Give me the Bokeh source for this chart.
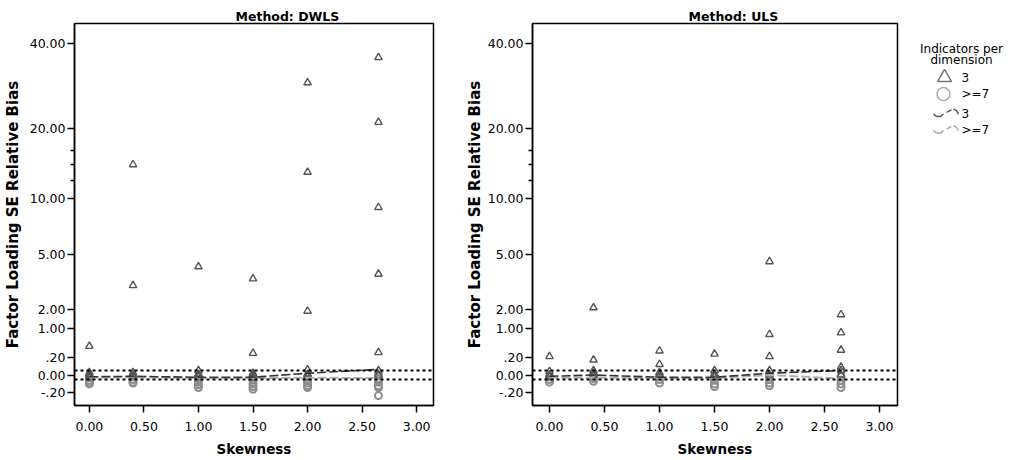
import numpy as np
from bokeh.plotting import figure
from bokeh.models import Range1d, FixedTicker, Span, PrintfTickFormatter
from bokeh.layouts import row
from bokeh.embed import file_html
from bokeh.resources import INLINE
from bokeh.core.properties import value

FONT = "DejaVu Sans"

# ---------------- data ----------------
SKEW = [0.0, 0.40, 1.00, 1.50, 2.00, 2.65]

# DWLS, 3 indicators per dimension (triangles), one list per skewness level
DWLS_TRI = [
    [0.48, 0.03, 0.0, -0.02, 0.01],
    [14.0, 3.0, 0.03, 0.0, -0.01],
    [4.1, 0.05, 0.01, -0.02, 0.0],
    [3.36, 0.30, 0.02, 0.0, -0.03],
    [29.0, 13.0, 1.87, 0.06, 0.01, -0.02],
    [35.6, 21.0, 9.0, 3.63, 0.32, 0.05, 0.0],
]
# DWLS, >=7 indicators per dimension (circles)
DWLS_CIR = [
    [-0.03, -0.06, -0.08, -0.10],
    [-0.02, -0.05, -0.08, -0.09],
    [-0.02, -0.05, -0.08, -0.11, -0.14],
    [-0.02, -0.06, -0.10, -0.13, -0.16],
    [-0.02, -0.05, -0.09, -0.12, -0.14],
    [0.0, -0.04, -0.08, -0.12, -0.14, -0.27],
]
DWLS_LINE3 = [-0.02, -0.015, -0.025, -0.025, 0.02, 0.063]
DWLS_LINE7 = [-0.03, -0.025, -0.035, -0.035, -0.03, -0.035]

# ULS
ULS_TRI = [
    [0.22, 0.04, 0.0, -0.02],
    [2.05, 0.17, 0.05, 0.02, 0.0],
    [0.36, 0.12, 0.03, 0.0],
    [0.28, 0.05, 0.01, -0.02],
    [4.46, 0.82, 0.22, 0.05, 0.0],
    [1.67, 0.87, 0.38, 0.09, 0.05, 0.0],
]
ULS_CIR = [
    [-0.02, -0.05, -0.08],
    [-0.01, -0.04, -0.07],
    [-0.02, -0.05, -0.09],
    [-0.02, -0.06, -0.10, -0.13],
    [-0.01, -0.05, -0.09, -0.12],
    [-0.02, -0.06, -0.10, -0.14],
]
ULS_LINE3 = [-0.015, 0.0, -0.025, -0.025, 0.02, 0.05]
ULS_LINE7 = [-0.03, -0.03, -0.035, -0.035, 0.0, -0.04]

REF_LINES = [-0.05, 0.05]

X_TICKS = [0.0, 0.5, 1.0, 1.5, 2.0, 2.5, 3.0]
Y_TICKS = [-0.2, 0.0, 0.2, 1.0, 2.0, 5.0, 10.0, 20.0, 40.0]
Y_LABELS = ["-.20", "0.00", ".20", "1.00", "2.00", "5.00", "10.00", "20.00", "40.00"]
Y_MINOR = [12.0, 14.0, 16.0]

# non-linear (compressed) y scale calibration of the original axis
SCALE_VALUES = [0.0, 0.2, 1.0, 2.0, 5.0, 10.0, 20.0, 40.0]
SCALE_POS = [0.0, 17.75, 46.2, 66.0, 120.5, 176.2, 246.8, 331.8]


def tf(v):
    v = np.asarray(v, dtype=float)
    a = np.interp(np.arcsinh(np.abs(v)), np.arcsinh(SCALE_VALUES), SCALE_POS)
    return np.sign(v) * a


def flat(groups):
    xs, ys = [], []
    for s, vals in zip(SKEW, groups):
        for v in vals:
            xs.append(s)
            ys.append(v)
    return xs, [float(t) for t in tf(ys)]


def make_panel(title, tri, cir, l3, l7, width, mbl, mbr, xr, title_off, ylab_standoff):
    p = figure(width=width, height=460, x_range=Range1d(*xr),
               y_range=Range1d(-30.5, 351.5), toolbar_location=None,
               output_backend="svg", min_border_left=mbl, min_border_right=mbr,
               min_border_top=23, min_border_bottom=55, title=title)
    p.title.align = "left"
    p.title.offset = title_off
    p.title.standoff = 0
    p.title.text_font = FONT
    p.title.text_font_style = "bold"
    p.title.text_font_size = "12.5px"
    p.title.text_color = "black"

    p.xgrid.visible = False
    p.ygrid.visible = False
    p.outline_line_color = "black"
    p.outline_line_width = 1.5
    p.outline_line_alpha = 1.0
    p.background_fill_color = "white"
    p.border_fill_color = "white"

    for v in REF_LINES:
        p.add_layout(Span(location=float(tf(v)), dimension="width",
                          line_color="black", line_width=2, line_dash="3 3"))

    cx, cy = flat(cir)
    p.scatter(cx, cy, marker="circle", size=7, fill_color=None,
              line_color="#8c8c8c", line_width=2)
    tx, ty = flat(tri)
    p.scatter(tx, ty, marker="triangle", size=7.5, fill_color=None,
              line_color="#555555", line_width=1.4)

    p.line(SKEW, [float(t) for t in tf(l7)], line_color="#b0b0b0",
           line_width=2, line_dash="9 3")
    p.line(SKEW, [float(t) for t in tf(l3)], line_color="#333333",
           line_width=1.6, line_dash="9 3")

    xa = p.xaxis[0]
    xa.ticker = FixedTicker(ticks=X_TICKS, minor_ticks=[])
    xa.formatter = PrintfTickFormatter(format="%.2f")
    xa.axis_label = "Skewness"

    ya = p.yaxis[0]
    ypos = [float(t) for t in tf(Y_TICKS)]
    ya.ticker = FixedTicker(ticks=ypos, minor_ticks=[float(t) for t in tf(Y_MINOR)])
    ya.major_label_overrides = {k: lab for k, lab in zip(ypos, Y_LABELS)}
    ya.axis_label = "Factor Loading SE Relative Bias"

    for ax in (xa, ya):
        ax.major_tick_out = 7
        ax.major_tick_in = 0
        ax.minor_tick_out = 4
        ax.minor_tick_in = 0
        ax.axis_line_width = 1.5
        ax.major_tick_line_width = 1.5
        ax.minor_tick_line_width = 1.5
        ax.major_label_text_font = FONT
        ax.major_label_text_color = "black"
        ax.major_label_text_font_size = "12.5px"
        ax.axis_label_text_font = FONT
        ax.axis_label_text_font_style = "bold"
        ax.axis_label_text_color = "black"
    xa.axis_label_text_font_size = "13.5px"
    ya.axis_label_text_font_size = "15px"
    xa.major_label_standoff = 9
    xa.axis_label_standoff = 7
    ya.major_label_standoff = 2
    ya.axis_label_standoff = ylab_standoff
    return p


p1 = make_panel("Method: DWLS", DWLS_TRI, DWLS_CIR, DWLS_LINE3, DWLS_LINE7,
                450, 71, 17, (-0.1364, 3.1545), 161, 5)
p2 = make_panel("Method: ULS", ULS_TRI, ULS_CIR, ULS_LINE3, ULS_LINE7,
                455, 82, 8, (-0.1545, 3.1636), 156, 1)

# ---------------- legend ----------------
lg = figure(width=108, height=460, x_range=Range1d(0, 108), y_range=Range1d(460, 0),
            toolbar_location=None, output_backend="svg", min_border=0)
lg.axis.visible = False
lg.xgrid.visible = False
lg.ygrid.visible = False
lg.outline_line_color = None
lg.text(x=[56, 56], y=[30.5, 44.5], text=["Indicators per", "dimension"],
        text_align="center", text_baseline="middle", text_font=value(FONT),
        text_font_size="12px", text_color="black")
lg.scatter([39], [65], marker="triangle", size=14, fill_color=None,
           line_color="#777777", line_width=1.5)
lg.scatter([38], [85], marker="circle", size=13, fill_color=None,
           line_color="#aaaaaa", line_width=1.5)
lg.multi_line(xs=[[28, 31, 35, 38], [41, 46], [48, 51, 53]],
              ys=[[109, 112, 112, 109], [107, 104], [103, 105, 109]],
              line_color="#555555", line_width=1.5)
lg.multi_line(xs=[[28, 31, 35, 38], [41, 46], [48, 51, 53]],
              ys=[[129, 132, 132, 129], [127, 124], [123, 125, 129]],
              line_color="#aaaaaa", line_width=1.5)
lg.text(x=[56, 56, 56, 56], y=[65, 85, 108, 128], text=["3", ">=7", "3", ">=7"],
        text_align="left", text_baseline="middle", text_font=value(FONT),
        text_font_size="12px", text_color="black")

layout = row(p1, p2, lg)
open("out.html", "w").write(file_html(layout, INLINE))
